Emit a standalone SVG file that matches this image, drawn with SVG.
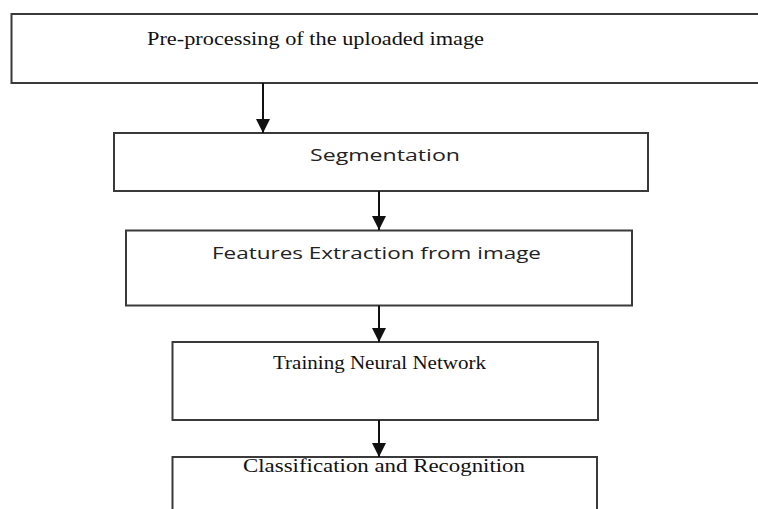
<svg xmlns="http://www.w3.org/2000/svg" width="758" height="509" viewBox="0 0 758 509">
<defs>
<style>
.box{fill:#fff;stroke:#3a3a3a;stroke-width:2}
.serif{font-family:"Liberation Serif","DejaVu Serif",serif;font-size:18px;fill:#111}
.sans{font-family:"Open Sans","Liberation Sans",sans-serif;font-size:17px;fill:#222}
.conn{stroke:#111;stroke-width:2;fill:none}
</style>
<marker id="arr" viewBox="0 0 14 14" refX="14" refY="7" markerWidth="14" markerHeight="14" markerUnits="userSpaceOnUse" orient="auto">
<path d="M0,0 L14,7 L0,14 Z" fill="#111"/>
</marker>
</defs>
<rect width="758" height="509" fill="#fff"/>
<g id="n1"><rect class="box" x="11.5" y="14" width="760" height="69"/><text class="serif" x="147" y="45" textLength="337" lengthAdjust="spacingAndGlyphs">Pre-processing of the uploaded image</text></g>
<g id="n2"><rect class="box" x="114" y="133" width="534" height="58"/><text class="sans" x="310" y="161" textLength="150" lengthAdjust="spacingAndGlyphs">Segmentation</text></g>
<g id="n3"><rect class="box" x="126" y="230.5" width="506" height="75"/><text class="sans" x="212" y="259" textLength="329" lengthAdjust="spacingAndGlyphs">Features Extraction from image</text></g>
<g id="n4"><rect class="box" x="172.5" y="342" width="425.5" height="78"/><text class="serif" x="273" y="369" textLength="213" lengthAdjust="spacingAndGlyphs">Training Neural Network</text></g>
<g id="n5"><rect class="box" x="172.5" y="457" width="424.5" height="70"/><text class="serif" x="243" y="472" textLength="282" lengthAdjust="spacingAndGlyphs">Classification and Recognition</text></g>
<g id="connectors">
<line class="conn" x1="263" y1="83" x2="263" y2="133" marker-end="url(#arr)"/>
<line class="conn" x1="379" y1="191" x2="379" y2="230" marker-end="url(#arr)"/>
<line class="conn" x1="379" y1="305.5" x2="379" y2="342" marker-end="url(#arr)"/>
<line class="conn" x1="379" y1="420" x2="379" y2="457" marker-end="url(#arr)"/>
</g>
</svg>
